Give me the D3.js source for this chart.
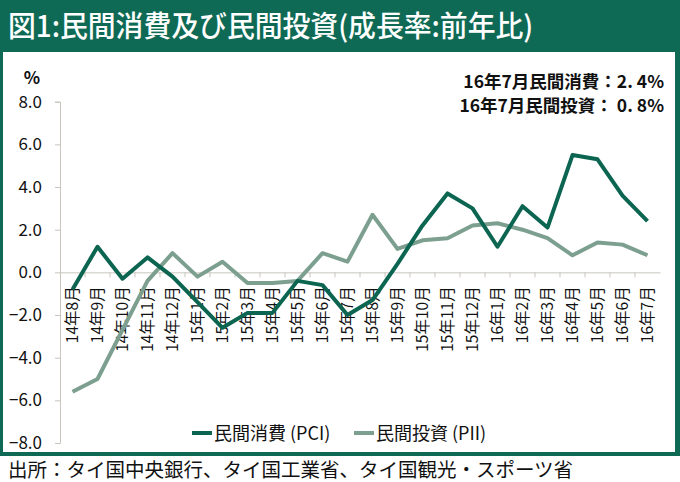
<!DOCTYPE html>
<html>
<head>
<meta charset="utf-8">
<script src="https://cdn.jsdelivr.net/npm/d3@7"></script>
<style>
  body { margin: 0; background: #fff; }
  svg text { font-family: "Noto Sans CJK JP", "Noto Sans", sans-serif; }
</style>
</head>
<body>
<div id="chart"></div>
<script>
// data
var months = ["14年8月","14年9月","14年10月","14年11月","14年12月",
  "15年1月","15年2月","15年3月","15年4月","15年5月","15年6月","15年7月",
  "15年8月","15年9月","15年10月","15年11月","15年12月",
  "16年1月","16年2月","16年3月","16年4月","16年5月","16年6月","16年7月"];
var pci = [-0.8, 1.2, -0.3, 0.7, -0.2, -1.4, -2.6, -1.9, -1.9, -0.4, -0.6, -2.0,
  -1.3, 0.4, 2.2, 3.7, 3.0, 1.2, 3.1, 2.1, 5.5, 5.3, 3.6, 2.4];
var pii = [-5.6, -5.0, -2.7, -0.4, 0.9, -0.2, 0.5, -0.5, -0.5, -0.4, 0.9, 0.5,
  2.7, 1.1, 1.5, 1.6, 2.2, 2.3, 2.0, 1.6, 0.8, 1.4, 1.3, 0.8];
var yTicks = [8, 6, 4, 2, 0, -2, -4, -6, -8];
var seriesNames = ["民間消費 (PCI)", "民間投資 (PII)"];
var titleText = "図1:民間消費及び民間投資(成長率:前年比)";
var noteLines = ["16年7月民間消費：2. 4%", "16年7月民間投資： 0. 8%"];
var sourceText = "出所：タイ国中央銀行、タイ国工業省、タイ国観光・スポーツ省";

var W = 680, H = 482;
var green = "#0f6a55";
var colPci = "#0c6550";
var colPii = "#7c9f90";
var axisCol = "#c9c5bd";

var svg = d3.select("#chart").append("svg")
  .attr("width", W).attr("height", H);

// frame
svg.append("rect").attr("x", 0).attr("y", 0).attr("width", W).attr("height", 456)
  .attr("fill", green);
svg.append("rect").attr("x", 3).attr("y", 52).attr("width", 672).attr("height", 400)
  .attr("fill", "#fff");

svg.append("text")
  .attr("transform", "translate(8,37) scale(0.96,1)")
  .attr("fill", "#fff")
  .attr("font-size", 29)
  .attr("font-weight", 500)
  .text(titleText);

var x = d3.scaleBand().domain(months).range([60, 660]);
var y = d3.scaleLinear().domain([-8, 8]).range([443, 101.7]);

// y axis
var yAxis = svg.append("g")
  .attr("transform", "translate(60,0)")
  .call(d3.axisLeft(y).tickValues(yTicks).tickSize(5).tickFormat(d3.format(".1f")));
yAxis.select(".domain").attr("stroke", axisCol);
yAxis.selectAll(".tick line").attr("stroke", axisCol);
yAxis.selectAll(".tick text")
  .attr("x", -18)
  .attr("fill", "#111")
  .attr("font-size", 17)
  .attr("font-family", "'Noto Sans', sans-serif");

svg.append("text")
  .attr("x", 32).attr("y", 84)
  .attr("text-anchor", "middle")
  .attr("font-size", 17)
  .attr("font-weight", 600)
  .attr("font-family", "'Noto Sans', sans-serif")
  .attr("fill", "#111")
  .text("%");

// x axis on zero line
var xAxis = svg.append("g")
  .attr("transform", "translate(0," + y(0) + ")")
  .call(d3.axisBottom(x).tickSize(0).tickFormat(""));
xAxis.select(".domain").attr("stroke", axisCol);
svg.append("g").selectAll("line")
  .data(months.slice(1))
  .join("line")
  .attr("x1", function(d) { return x(d); })
  .attr("x2", function(d) { return x(d); })
  .attr("y1", y(0)).attr("y2", y(0) + 5)
  .attr("stroke", axisCol);

svg.append("g").selectAll("text")
  .data(months)
  .join("text")
  .attr("transform", function(d) {
    return "translate(" + (x(d) + x.bandwidth() / 2) + "," + (y(0) + 14) + ") rotate(-90)";
  })
  .attr("text-anchor", "end")
  .attr("dy", "0.35em")
  .attr("font-size", 15.5)
  .attr("fill", "#111")
  .text(function(d) { return d; });

// lines
var line = d3.line()
  .x(function(d, i) { return x(months[i]) + x.bandwidth() / 2; })
  .y(function(d) { return y(d); });

svg.append("path").datum(pii)
  .attr("d", line).attr("fill", "none")
  .attr("stroke", colPii).attr("stroke-width", 4).attr("stroke-linejoin", "round");
svg.append("path").datum(pci)
  .attr("d", line).attr("fill", "none")
  .attr("stroke", colPci).attr("stroke-width", 4).attr("stroke-linejoin", "round");

// note top right
svg.append("g").selectAll("text")
  .data(noteLines)
  .join("text")
  .attr("x", 664)
  .attr("y", function(d, i) { return 88 + i * 24; })
  .attr("text-anchor", "end")
  .attr("font-size", 17.5)
  .attr("font-weight", 700)
  .attr("fill", "#111")
  .text(function(d) { return d; });

// legend
var legend = svg.append("g");
var legendX = [192, 354];
var legendCol = [colPci, colPii];
seriesNames.forEach(function(name, i) {
  legend.append("line")
    .attr("x1", legendX[i]).attr("x2", legendX[i] + 20)
    .attr("y1", 433).attr("y2", 433)
    .attr("stroke", legendCol[i]).attr("stroke-width", 4);
  legend.append("text")
    .attr("x", legendX[i] + 22).attr("y", 439.5)
    .attr("font-size", 18)
    .attr("fill", "#111")
    .text(name);
});

// source
svg.append("text")
  .attr("x", 8).attr("y", 477)
  .attr("font-size", 19.5)
  .attr("fill", "#111")
  .text(sourceText);
</script>
</body>
</html>
